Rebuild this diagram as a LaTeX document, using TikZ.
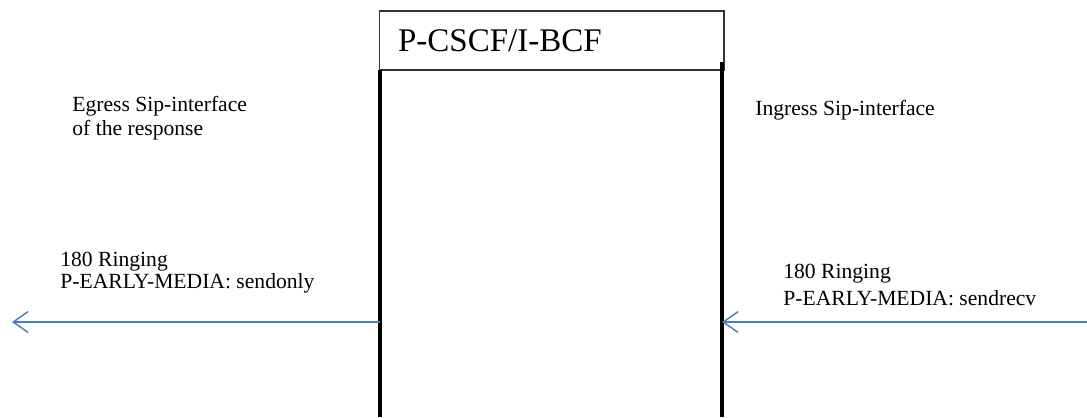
\documentclass[tikz,border=0pt]{standalone}
\usepackage{fontspec}
\setmainfont{Liberation Serif}
\usepackage{tikz}
\usetikzlibrary{arrows.meta}
\definecolor{msgblue}{RGB}{74,126,187}

\begin{document}
\begin{tikzpicture}[
  x=0.02cm, y=-0.02cm,
  >={Straight Barb[length=3mm, width=4.2mm]},
  msg/.style={->, draw=msgblue, line width=0.8pt},
  life/.style={line width=1.8pt, black},
  lbl/.style={font=\fontsize{12.3}{12.3}\selectfont, align=left,
              anchor=base west, inner sep=0pt}
]
\useasboundingbox (0,0) rectangle (1087,417);
% network entity
\node[draw=black!80, line width=0.6pt, minimum width=6.9cm, minimum height=1.18cm,
      text width=6.14cm, inner xsep=0.38cm, align=left,
      font=\fontsize{18.8}{22}\selectfont] (pcscf) at (551.5,40.5) {P-CSCF/I-BCF};
\coordinate (lefttop) at (380,70);
\coordinate (leftbot) at (380,417);
\coordinate (righttop) at (722,62);
\coordinate (rightbot) at (722,417);
\draw[life] (lefttop) -- (leftbot);
\draw[life] (righttop) -- (rightbot);
% interfaces (base = last line)
\node[lbl] (egress) at (72,135) {Egress Sip-interface\\[0.8pt] of the response};
\node[lbl] (ingress) at (755,115) {Ingress Sip-interface};
% 180 responses
\node[lbl] (resp1) at (60,288) {180 Ringing\\ P-EARLY-MEDIA: sendonly};
\node[lbl] (resp2) at (783,305) {180 Ringing\\[2.8pt] P-EARLY-MEDIA: sendrecv};
\coordinate (leftout) at (12,322);
\coordinate (rightin) at (1087,322);
\draw[msg] (380,322) coordinate (lefthit) -- (leftout);
\draw[msg] (rightin) -- (722,322) coordinate (righthit);
\end{tikzpicture}
\end{document}
